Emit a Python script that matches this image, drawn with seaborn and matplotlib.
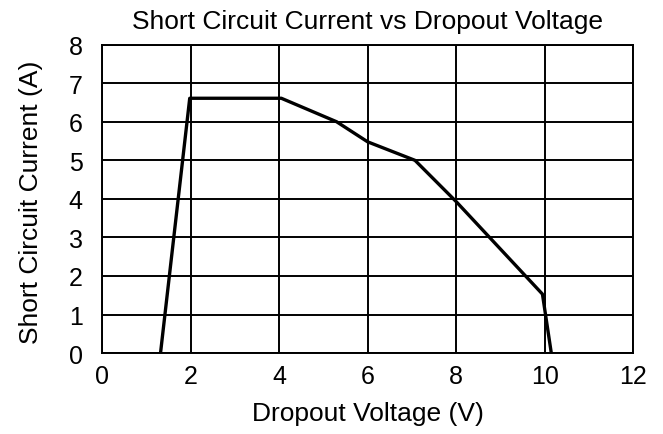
import matplotlib
matplotlib.use("Agg")
import matplotlib.pyplot as plt
import seaborn as sns
import pandas as pd

# Data
voltage = [1.32, 1.98, 4.05, 5.3, 6.0, 7.07, 8.0, 9.95, 10.15]
current = [0.0, 6.61, 6.61, 6.0, 5.48, 5.0, 3.93, 1.53, 0.0]
x_ticks = [0, 2, 4, 6, 8, 10, 12]
y_ticks = [0, 1, 2, 3, 4, 5, 6, 7, 8]

sns.set_theme(style="white")
plt.rcParams['font.family'] = ['Liberation Sans', 'DejaVu Sans']

df = pd.DataFrame({"Dropout Voltage (V)": voltage, "Short Circuit Current (A)": current})

fig = plt.figure(figsize=(6.63, 4.35), dpi=100)
ax = fig.add_axes([0.154, 0.186, 0.801, 0.709])

sns.lineplot(data=df, x="Dropout Voltage (V)", y="Short Circuit Current (A)",
             ax=ax, color="black", linewidth=2.4, sort=False, estimator=None)

ax.set_xlim(0, 12)
ax.set_ylim(0, 8)
ax.set_xticks(x_ticks)
ax.set_yticks(y_ticks)
ax.grid(True, color="black", linewidth=1.4)
ax.set_axisbelow(True)
for s in ax.spines.values():
    s.set_color("black")
    s.set_linewidth(1.4)
ax.tick_params(axis="both", length=0, labelsize=18, colors="black")
ax.tick_params(axis="y", pad=14)
ax.tick_params(axis="x", pad=8)
ax.set_xlabel("Dropout Voltage (V)", fontsize=19, color="black")
ax.set_ylabel("Short Circuit Current (A)", fontsize=19, color="black")
ax.xaxis.set_label_coords(0.5, -0.156)
ax.yaxis.set_label_coords(-0.111, 0.493)
ax.set_title("Short Circuit Current vs Dropout Voltage", fontsize=19, color="black", pad=12)

fig.savefig("out.png", dpi=100)
